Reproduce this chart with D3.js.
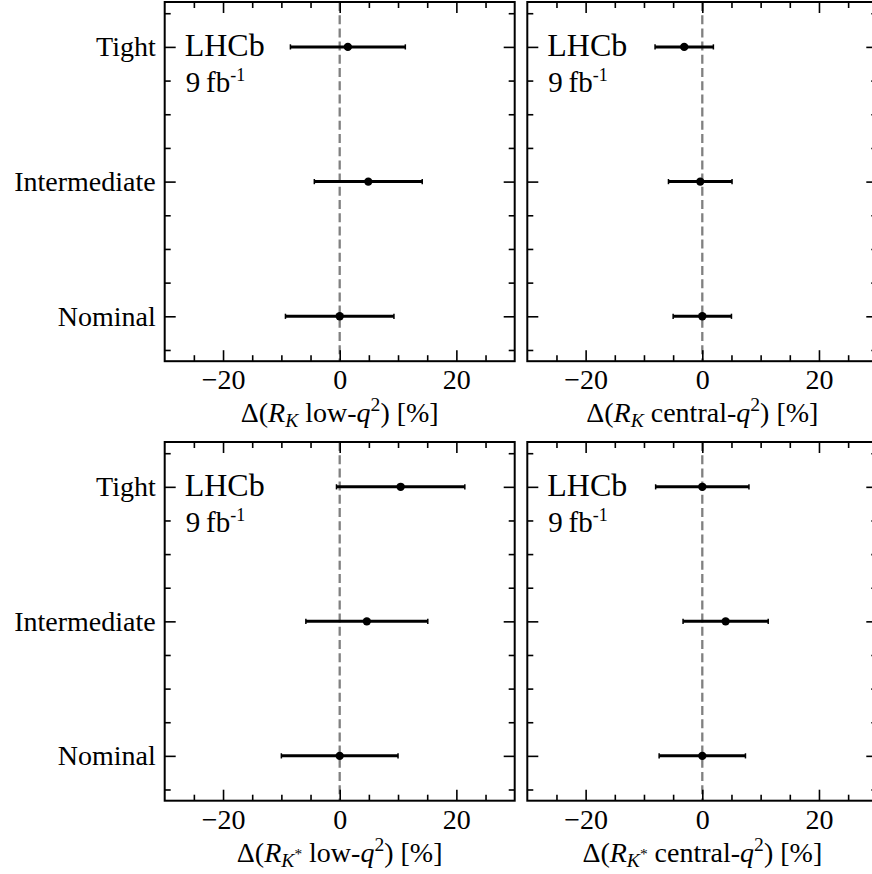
<!DOCTYPE html>
<html><head><meta charset="utf-8">
<script src="https://cdn.jsdelivr.net/npm/d3@7"></script>
<style>body{margin:0;background:#fff} svg{display:block}</style>
</head><body>
<script>
// ---- data ----
const categories = ["Nominal", "Intermediate", "Tight"];
const rkLowValues = [0.0, 4.9, 1.4];
const rkLowErrors = [9.3, 9.25, 9.85];
const rkCentralValues = [0.0, -0.35, -3.1];
const rkCentralErrors = [5.0, 5.45, 5.0];
const rkstLowValues = [0.0, 4.65, 10.45];
const rkstLowErrors = [10.0, 10.45, 11.0];
const rkstCentralValues = [0.0, 4.0, 0.0];
const rkstCentralErrors = [7.4, 7.3, 8.0];
const xTickValues = [-20, 0, 20];
const xMinorTickValues = [-25, -15, -10, -5, 5, 10, 15, 25];
const yTickValues = [0, 1, 2];
const yMinorTickValues = [-0.25, 0.25, 0.5, 0.75, 1.25, 1.5, 1.75, 2.25];
const xDomain = [-30, 30];
const yDomain = [-1/3, 7/3];
const expText = "LHCb";
const lumiText = ["9\u2009fb", "-1"];

const FONT = '"Liberation Serif"';

// ---- layout ----
const W = 872, H = 874;
const cols = [[164.7, 514.7], [527.3, 877.3]];
const rows = [[361.2, 2.0], [800.7, 442.0]];

const panels = [
  {values: rkLowValues, errors: rkLowErrors, col: 0, row: 0, sub: ["K"], q: "low"},
  {values: rkCentralValues, errors: rkCentralErrors, col: 1, row: 0, sub: ["K"], q: "central"},
  {values: rkstLowValues, errors: rkstLowErrors, col: 0, row: 1, sub: ["K", "*"], q: "low"},
  {values: rkstCentralValues, errors: rkstCentralErrors, col: 1, row: 1, sub: ["K", "*"], q: "central"}
];

const svg = d3.select("body").append("svg")
  .attr("width", W).attr("height", H)
  .style("overflow", "hidden");

function rich(textSel, parts, base) {
  let cur = 0;
  parts.forEach(p => {
    const shift = p.shift || 0;
    const ts = textSel.append("tspan")
      .text(p.t)
      .style("font-family", FONT)
      .attr("font-size", base * (p.size || 1))
      .attr("dy", shift - cur);
    if (p.it) ts.attr("font-style", "italic");
    cur = shift;
  });
}

panels.forEach(p => {
  const [x0, x1] = cols[p.col];
  const [yb, yt] = rows[p.row];
  const x = d3.scaleLinear().domain(xDomain).range([x0, x1]);
  const y = d3.scaleLinear().domain(yDomain).range([yb, yt]);
  const g = svg.append("g");

  g.append("line")
    .attr("x1", x(0)).attr("x2", x(0))
    .attr("y1", yt).attr("y2", yb)
    .attr("stroke", "#808080").attr("stroke-width", 2.3)
    .attr("stroke-dasharray", "9,4.2");

  function styleAxis(sel) {
    sel.select(".domain").remove();
    sel.attr("font-family", null);
    sel.selectAll(".tick line").attr("stroke", "#000").attr("stroke-width", 1.6);
    sel.selectAll(".tick text").style("font-family", FONT).attr("font-size", 28).attr("fill", "#000");
  }
  const bAx = g.append("g").attr("transform", `translate(0,${yb})`)
    .call(d3.axisBottom(x).tickValues(xTickValues).tickSize(-11).tickPadding(8)
      .tickFormat(d => d < 0 ? "\u2212" + Math.abs(d) : String(d)));
  styleAxis(bAx);
  g.append("g").attr("transform", `translate(0,${yb})`)
    .call(d3.axisBottom(x).tickValues(xMinorTickValues).tickSize(-6).tickFormat(""))
    .call(styleAxis);
  g.append("g").attr("transform", `translate(0,${yt})`)
    .call(d3.axisTop(x).tickValues(xTickValues).tickSize(-11).tickFormat(""))
    .call(styleAxis);
  g.append("g").attr("transform", `translate(0,${yt})`)
    .call(d3.axisTop(x).tickValues(xMinorTickValues).tickSize(-6).tickFormat(""))
    .call(styleAxis);
  const lAx = g.append("g").attr("transform", `translate(${x0},0)`)
    .call(d3.axisLeft(y).tickValues(yTickValues).tickSize(-11).tickPadding(9)
      .tickFormat(i => p.col === 0 ? categories[i] : ""));
  styleAxis(lAx);
  g.append("g").attr("transform", `translate(${x0},0)`)
    .call(d3.axisLeft(y).tickValues(yMinorTickValues).tickSize(-6).tickFormat(""))
    .call(styleAxis);
  g.append("g").attr("transform", `translate(${x1},0)`)
    .call(d3.axisRight(y).tickValues(yTickValues).tickSize(-11).tickFormat(""))
    .call(styleAxis);
  g.append("g").attr("transform", `translate(${x1},0)`)
    .call(d3.axisRight(y).tickValues(yMinorTickValues).tickSize(-6).tickFormat(""))
    .call(styleAxis);

  const data = p.values.map((v, i) => ({v, e: p.errors[i], i}));
  const eb = g.append("g");
  eb.selectAll("line.bar").data(data).join("line").attr("class", "bar")
    .attr("x1", d => x(d.v - d.e)).attr("x2", d => x(d.v + d.e))
    .attr("y1", d => y(d.i)).attr("y2", d => y(d.i))
    .attr("stroke", "#000").attr("stroke-width", 3);
  ["lo", "hi"].forEach(side => {
    eb.selectAll("line.cap" + side).data(data).join("line").attr("class", "cap" + side)
      .attr("x1", d => x(side === "lo" ? d.v - d.e : d.v + d.e))
      .attr("x2", d => x(side === "lo" ? d.v - d.e : d.v + d.e))
      .attr("y1", d => y(d.i) - 2.6).attr("y2", d => y(d.i) + 2.6)
      .attr("stroke", "#000").attr("stroke-width", 1.5);
  });
  eb.selectAll("circle").data(data).join("circle")
    .attr("cx", d => x(d.v)).attr("cy", d => y(d.i)).attr("r", 4.2)
    .attr("fill", "#000");

  g.append("rect")
    .attr("x", x0).attr("y", yt).attr("width", x1 - x0).attr("height", yb - yt)
    .attr("fill", "none").attr("stroke", "#000").attr("stroke-width", 2);

  // experiment label
  g.append("text").attr("x", x0 + 20).attr("y", yt + 54)
    .style("font-family", FONT).attr("font-size", 32).attr("fill", "#000").text(expText);
  const lt = g.append("text").attr("x", x0 + 21).attr("y", yt + 90).attr("fill", "#000");
  rich(lt, [{t: lumiText[0]}, {t: lumiText[1], size: 0.62, shift: -11}], 29);

  // x label
  const parts = [{t: "\u0394("}, {t: "R", it: 1}, {t: p.sub[0], it: 1, size: 0.7, shift: 5}];
  if (p.sub.length > 1) parts.push({t: p.sub[1], size: 0.55, shift: -3});
  parts.push({t: "\u00A0" + p.q + "-"}, {t: "q", it: 1}, {t: "2", size: 0.7, shift: -11}, {t: ")\u00A0[%]"});
  const xl = g.append("text").attr("x", (x0 + x1) / 2)
    .attr("y", yb + 61).attr("text-anchor", "middle").attr("fill", "#000");
  rich(xl, parts, 28);
});
</script>
</body></html>
